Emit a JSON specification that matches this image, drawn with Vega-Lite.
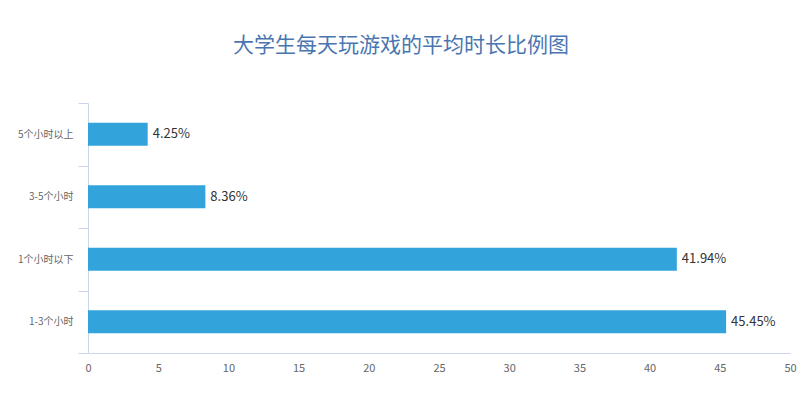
{
  "$schema": "https://vega.github.io/schema/vega-lite/v6.json",
  "autosize": "none",
  "width": 702,
  "height": 250,
  "padding": {"left": 88, "top": 103, "right": 10, "bottom": 41},
  "background": "#ffffff",
  "config": {
    "view": {"stroke": null},
    "font": "Noto Sans CJK SC"
  },
  "title": {
    "text": "大学生每天玩游戏的平均时长比例图",
    "fontSize": 21,
    "fontWeight": "normal",
    "color": "#4a76b0",
    "font": "Noto Sans CJK SC",
    "anchor": "middle",
    "dx": -38,
    "offset": 42
  },
  "data": {
    "values": [
      {"cat": "5个小时以上", "value": 4.25, "label": "4.25%"},
      {"cat": "3-5个小时", "value": 8.36, "label": "8.36%"},
      {"cat": "1个小时以下", "value": 41.94, "label": "41.94%"},
      {"cat": "1-3个小时", "value": 45.45, "label": "45.45%"}
    ]
  },
  "encoding": {
    "y": {
      "field": "cat",
      "type": "nominal",
      "sort": null,
      "scale": {"paddingInner": 0, "paddingOuter": 0},
      "axis": {
        "title": null,
        "tickBand": "extent",
        "tickSize": 10,
        "tickColor": "#ccd6eb",
        "domainColor": "#ccd6eb",
        "labelFontSize": 10,
        "labelColor": "#666666",
        "labelPadding": 5,
        "grid": false
      }
    },
    "x": {
      "field": "value",
      "type": "quantitative",
      "scale": {"domain": [0, 50], "nice": false},
      "axis": {
        "title": null,
        "values": [0, 5, 10, 15, 20, 25, 30, 35, 40, 45, 50],
        "ticks": false,
        "grid": false,
        "labelFlush": false,
        "domainColor": "#ccd6eb",
        "labelFontSize": 11,
        "labelColor": "#666666",
        "labelPadding": 9
      }
    }
  },
  "layer": [
    {"mark": {"type": "bar", "size": 23, "color": "#33a3dc"}},
    {
      "mark": {"type": "text", "align": "left", "baseline": "middle", "dx": 5, "fontSize": 13, "color": "#333333"},
      "encoding": {"text": {"field": "label"}}
    }
  ]
}
